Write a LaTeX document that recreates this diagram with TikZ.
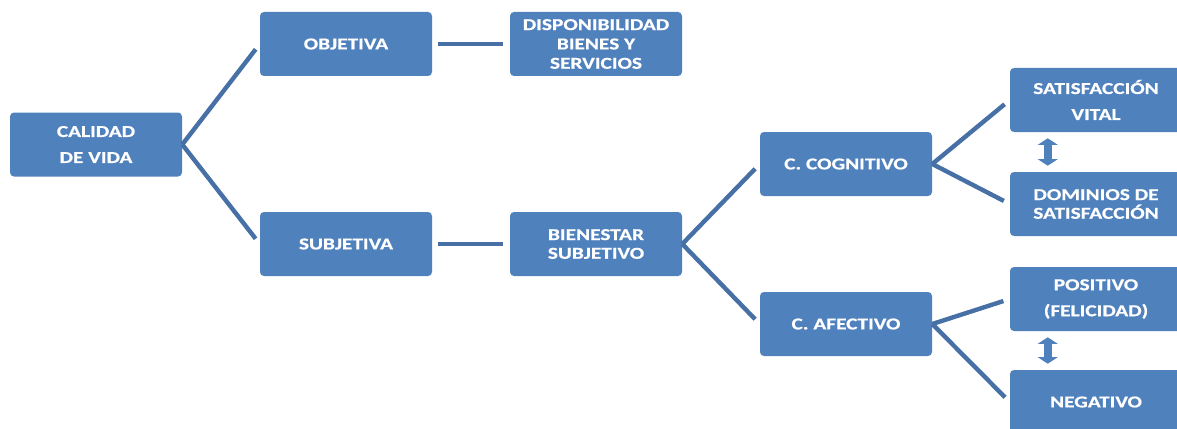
\documentclass[tikz,border=0pt]{standalone}
\usepackage{fontspec}
\newfontfamily\boxfont{Carlito}[FakeStretch=1.28, FakeBold=0.6]
\usepackage{tikz}
\usetikzlibrary{arrows.meta}
\usetikzlibrary{positioning}

\definecolor{boxblue}{HTML}{4F81BD}
\definecolor{lineblue}{HTML}{4670A6}

\begin{document}
\begin{tikzpicture}[
        x=0.75pt, y=-0.75pt,
        box/.style={rectangle, rounded corners=3pt, fill=boxblue, text=white,
            minimum width=129pt, minimum height=48pt, align=center,
            font=\boxfont\bfseries\fontsize{12.5pt}{14pt}\selectfont},
        branch/.style={draw=lineblue, line width=3.3pt, shorten >=5pt},
        link/.style={draw=lineblue, line width=3.3pt, shorten <=4pt, shorten >=5pt},
        swap/.style={draw=boxblue, line width=6pt, shorten <=4.5pt, shorten >=4.5pt,
            {Triangle[width=15pt, length=5pt]}-{Triangle[width=15pt, length=5pt]}},
    ]

    \def \gap {5.5pt};
    \def \arrx {28.5pt};

    \useasboundingbox (0,0) rectangle (1177,428);
    \clip (0,0) rectangle (1177,428);

    % Left part of the tree
    \node[box] (CV)  at (96,144.5) {CALIDAD\\[\gap]DE VIDA};
    \node[box] (OBJ) at (346,44)   {OBJETIVA};
    \node[box] (DIS) at (596,44)   {DISPONIBILIDAD\\[0.5pt]BIENES Y\\[0.5pt]SERVICIOS};
    \node[box] (SUB) at (346,244)  {SUBJETIVA};
    \node[box] (BS)  at (596,244)  {BIENESTAR\\SUBJETIVO};

    % Components
    \node[box] (CC)  at (846,164)  {C. COGNITIVO};
    \node[box] (CA)  at (846,324)  {C. AFECTIVO};

    % Right column, cut by the border
    \node[box] (SV)  at (1096,100) {SATISFACCIÓN\\[\gap]VITAL};
    \node[box] (DS)  at (1096,204) {DOMINIOS DE\\SATISFACCIÓN};
    \node[box] (POS) at (1096,299) {POSITIVO\\[\gap](FELICIDAD)};
    \node[box] (NEG) at (1096,402) {NEGATIVO};

    \draw[branch] (CV.east)  -- (OBJ.west);
    \draw[branch] (CV.east)  -- (SUB.west);

    \draw[link] (OBJ.east)  -- (DIS.west);
    \draw[link] (SUB.east)  -- (BS.west);

    \draw[branch] (BS.east)  -- (CC.west);
    \draw[branch] (BS.east)  -- (CA.west);

    \draw[branch] (CC.east)  -- (SV.west);
    \draw[branch] (CC.east)  -- (DS.west);

    \draw[branch] (CA.east)  -- (POS.west);
    \draw[branch] (CA.east)  -- (NEG.west);

    \draw[swap] ([xshift=\arrx]SV.south west)  -- ([xshift=\arrx]DS.north west);
    \draw[swap] ([xshift=\arrx]POS.south west) -- ([xshift=\arrx]NEG.north west);
\end{tikzpicture}
\end{document}
